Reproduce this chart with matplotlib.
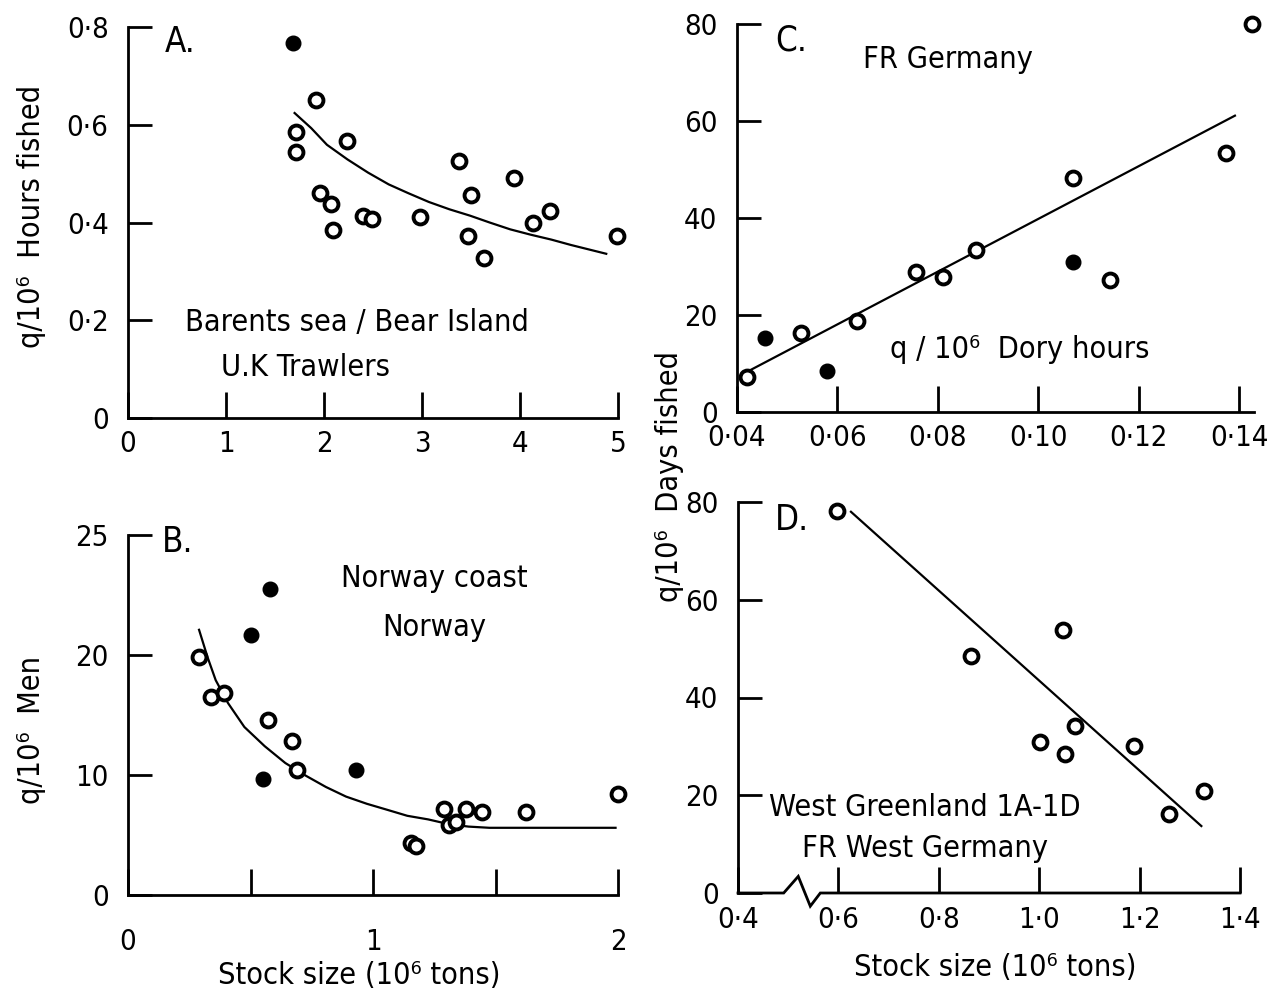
import matplotlib
matplotlib.use("Agg")
import matplotlib.pyplot as plt

plt.rcParams['font.family'] = ['DejaVu Sans']
plt.rcParams['font.stretch'] = 'condensed'

# ---- panel A: Barents sea / Bear Island, UK trawlers
a_ring_x = [1.92, 1.71, 1.71, 2.23, 1.96, 2.07, 2.09, 2.40, 2.49, 2.98, 3.38, 3.50, 3.47, 3.63, 3.94, 4.13, 4.31, 4.99]
a_ring_y = [0.651, 0.586, 0.544, 0.567, 0.460, 0.437, 0.384, 0.414, 0.408, 0.412, 0.526, 0.456, 0.373, 0.327, 0.492, 0.400, 0.424, 0.373]
a_solid_x = [1.68]
a_solid_y = [0.767]
a_fit_x = [1.70, 1.87, 2.03, 2.24, 2.45, 2.66, 2.86, 3.07, 3.28, 3.49, 3.69, 3.90, 4.11, 4.32, 4.52, 4.88]
a_fit_y = [0.624, 0.593, 0.559, 0.529, 0.502, 0.478, 0.460, 0.442, 0.427, 0.414, 0.400, 0.386, 0.375, 0.365, 0.354, 0.336]

# ---- panel B: Norway coast
b_ring_x = [0.29, 0.34, 0.39, 0.57, 0.67, 0.69, 1.155, 1.175, 1.29, 1.38, 1.445, 1.31, 1.34, 1.625, 2.0]
b_ring_y = [19.8, 16.5, 16.8, 14.6, 12.8, 10.4, 4.3, 4.1, 7.2, 7.2, 6.9, 5.8, 6.1, 6.9, 8.45]
b_solid_x = [0.55, 0.50, 0.58, 0.93]
b_solid_y = [9.7, 21.7, 25.5, 10.4]
b_fit_x = [0.29, 0.325, 0.358, 0.408, 0.475, 0.558, 0.642, 0.725, 0.808, 0.89, 0.975, 1.058, 1.14, 1.225, 1.31, 1.39, 1.475, 1.99]
b_fit_y = [22.1, 19.8, 17.9, 16.0, 14.0, 12.4, 11.0, 9.95, 9.0, 8.2, 7.6, 7.1, 6.6, 6.3, 5.9, 5.7, 5.6, 5.6]

# ---- panel C: FR Germany, q per dory hours
c_ring_x = [0.042, 0.0528, 0.0639, 0.0756, 0.0811, 0.0876, 0.107, 0.1143, 0.1374, 0.1427]
c_ring_y = [7.3, 16.3, 18.7, 28.9, 27.9, 33.4, 48.3, 27.2, 53.5, 80.0]
c_solid_x = [0.0455, 0.058, 0.107]
c_solid_y = [15.2, 8.5, 31.0]
c_fit_x = [0.0424, 0.1392]
c_fit_y = [8.5, 61.1]

# ---- panel D: West Greenland 1A-1D
d_ring_x = [0.597, 0.864, 1.048, 1.002, 1.052, 1.072, 1.188, 1.258, 1.328]
d_ring_y = [78.1, 48.4, 53.8, 30.9, 28.4, 34.2, 30.0, 16.2, 20.8]
d_fit_x = [0.625, 1.323]
d_fit_y = [78.0, 13.7]
d_break_x = [0.4, 0.491, 0.52, 0.544, 0.564, 1.4]
d_break_y = [0, 0, 3.4, -2.7, 0, 0]

W, H = 1269, 993
fig = plt.figure(figsize=(W / 100, H / 100), dpi=100)

def px_axes(x0, x1, ytop, ybot):
    return fig.add_axes([x0 / W, 1 - ybot / H, (x1 - x0) / W, (ybot - ytop) / H])

FS = 22      # annotation / axis-title text
TFS = 21     # tick labels
LW = 2.0

def style(ax):
    for s in ['top', 'right']:
        ax.spines[s].set_visible(False)
    for s in ['left', 'bottom']:
        ax.spines[s].set_linewidth(LW)
    ax.tick_params(axis='y', direction='in', length=17, width=LW, pad=14, labelsize=TFS)
    ax.tick_params(axis='x', direction='in', length=19, width=LW, pad=9, labelsize=TFS)
    ax.set_facecolor('none')

def points(ax, rx, ry, sx=None, sy=None):
    ax.plot(rx, ry, 'o', ms=10, mfc='white', mec='black', mew=2.8, clip_on=False, zorder=4)
    if sx:
        ax.plot(sx, sy, 'o', ms=10.5, mfc='black', mec='black', clip_on=False, zorder=4)

# A
axA = px_axes(128, 618, 27, 418)
style(axA)
axA.set_xlim(0, 5)
axA.set_ylim(0, 0.8)
axA.plot(a_fit_x, a_fit_y, color='black', lw=1.6)
points(axA, a_ring_x, a_ring_y, a_solid_x, a_solid_y)
axA.set_xticks([0, 1, 2, 3, 4, 5])
axA.set_yticks([0, 0.2, 0.4, 0.6, 0.8])
axA.set_yticklabels(['0', '0·2', '0·4', '0·6', '0·8'])
axA.text(0.38, 0.77, 'A.', fontsize=25, va='center', ha='left')
axA.text(2.34, 0.196, 'Barents sea / Bear Island', fontsize=FS, ha='center', va='center')
axA.text(1.81, 0.104, 'U.K Trawlers', fontsize=FS, ha='center', va='center')

# B
axB = px_axes(128, 618, 535, 895)
style(axB)
axB.set_xlim(0, 2)
axB.set_ylim(0, 30)
axB.plot(b_fit_x, b_fit_y, color='black', lw=1.6)
points(axB, b_ring_x, b_ring_y, b_solid_x, b_solid_y)
axB.set_xticks([0, 0.5, 1, 1.5, 2])
axB.set_xticklabels(['0', '', '1', '', '2'])
axB.tick_params(axis='x', pad=24)
axB.set_yticks([0, 10, 20, 30])
axB.set_yticklabels(['0', '10', '20', '25'])
axB.text(0.14, 29.4, 'B.', fontsize=25, va='center', ha='left')
axB.text(1.25, 26.4, 'Norway coast', fontsize=FS, ha='center', va='center')
axB.text(1.25, 22.25, 'Norway', fontsize=FS, ha='center', va='center')

# C
axC = px_axes(737, 1254, 24, 412)
style(axC)
axC.set_xlim(0.04, 0.143)
axC.set_ylim(0, 80)
axC.plot(c_fit_x, c_fit_y, color='black', lw=1.6)
points(axC, c_ring_x, c_ring_y, c_solid_x, c_solid_y)
axC.set_xticks([0.04, 0.06, 0.08, 0.10, 0.12, 0.14])
axC.set_xticklabels(['0·04', '0·06', '0·08', '0·10', '0·12', '0·14'])
axC.set_yticks([0, 20, 40, 60, 80])
axC.text(0.0476, 76.7, 'C.', fontsize=25, va='center', ha='left')
axC.text(0.082, 72.6, 'FR Germany', fontsize=FS, ha='center', va='center')
axC.text(0.0964, 12.8, 'q / 10⁶  Dory hours', fontsize=FS, ha='center', va='center')

# D
axD = px_axes(738, 1240, 502, 893)
style(axD)
axD.spines['bottom'].set_visible(False)
axD.set_xlim(0.4, 1.4)
axD.set_ylim(0, 80)
axD.plot(d_break_x, d_break_y, color='black', lw=LW, clip_on=False, solid_joinstyle='miter')
axD.plot(d_fit_x, d_fit_y, color='black', lw=1.6)
points(axD, d_ring_x, d_ring_y)
axD.set_xticks([0.4, 0.6, 0.8, 1.0, 1.2, 1.4])
axD.set_xticklabels(['0·4', '0·6', '0·8', '1·0', '1·2', '1·4'])
axD.set_yticks([0, 20, 40, 60, 80])
axD.text(0.474, 76.3, 'D.', fontsize=25, va='center', ha='left')
axD.text(0.772, 17.4, 'West Greenland 1A-1D', fontsize=FS, ha='center', va='center')
axD.text(0.772, 9.2, 'FR West Germany', fontsize=FS, ha='center', va='center')

# axis titles
fig.text(32 / W, 1 - 216 / H, 'q/10⁶  Hours fished', rotation=90, fontsize=FS, ha='center', va='center')
fig.text(32 / W, 1 - 730 / H, 'q/10⁶  Men', rotation=90, fontsize=FS, ha='center', va='center')
fig.text(670 / W, 1 - 477 / H, 'q/10⁶  Days fished', rotation=90, fontsize=FS, ha='center', va='center')
fig.text(359 / W, 1 - 975 / H, 'Stock size (10⁶ tons)', fontsize=FS, ha='center', va='center')
fig.text(995 / W, 1 - 968 / H, 'Stock size (10⁶ tons)', fontsize=FS, ha='center', va='center')

fig.savefig('out.png', dpi=100, facecolor='white')
